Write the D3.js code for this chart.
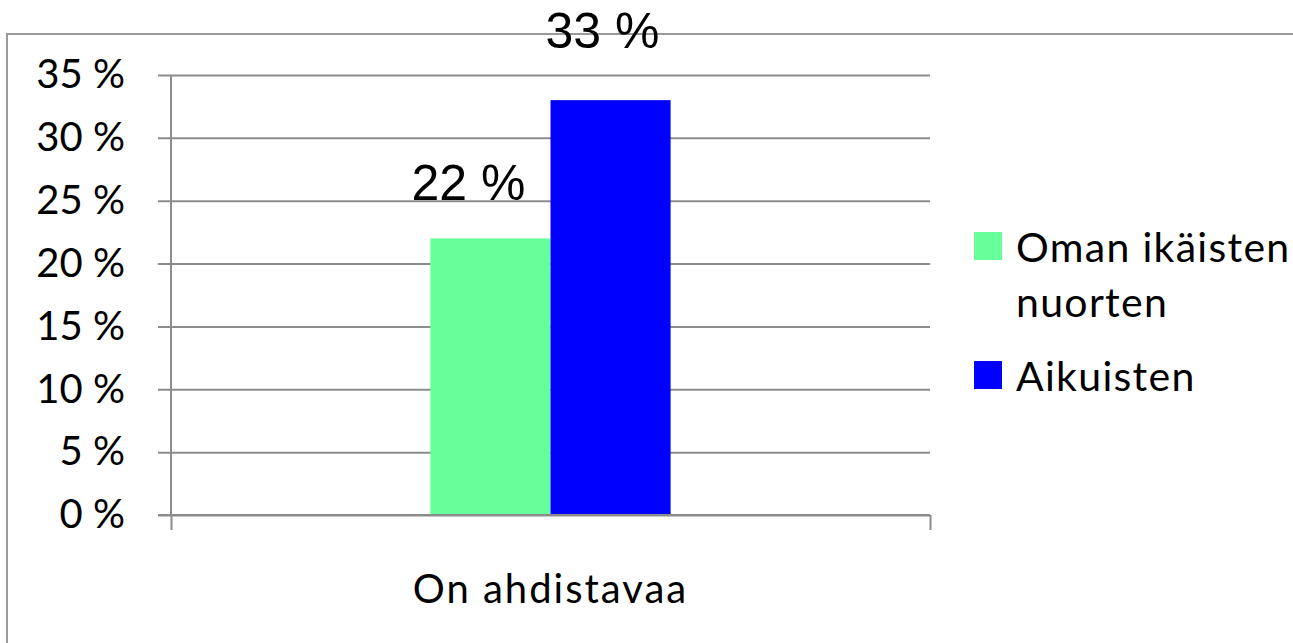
<!DOCTYPE html>
<html>
<head>
<meta charset="utf-8">
<script src="https://cdn.jsdelivr.net/npm/d3@7"></script>
<style>
  body { margin: 0; background: #fff; overflow: hidden; }
</style>
</head>
<body>
<div id="chart"></div>
<script>
// data
var categories = ["On ahdistavaa"];
var seriesNames = ["Oman ikäisten nuorten", "Aikuisten"];
var seriesValues = [[22], [33]];
var seriesColors = ["#66ff99", "#0000ff"];
var yTicks = [0, 5, 10, 15, 20, 25, 30, 35];

var width = 1293, height = 643;
var plot = {left: 171, right: 930, top: 75, bottom: 515};

var svg = d3.select("#chart").append("svg")
    .attr("width", width)
    .attr("height", height)
    .style("display", "block");

// outer chart frame (only left and top edges are inside the picture)
svg.append("path")
    .attr("d", "M7," + height + "V34H" + width)
    .attr("fill", "none")
    .attr("stroke", "#9a9a9a")
    .attr("stroke-width", 2);

var y = d3.scaleLinear().domain([0, 35]).range([plot.bottom, plot.top]);
var x0 = d3.scaleBand().domain(categories)
    .range([plot.left, plot.right])
    .paddingInner(0).paddingOuter(1.08);
var x1 = d3.scaleBand().domain(seriesNames).range([0, x0.bandwidth()]);

// gridlines + left ticks
var yAxis = d3.axisLeft(y)
    .tickValues(yTicks)
    .tickSize(-(plot.right - plot.left) - 13)
    .tickFormat(function(d) { return d + " %"; });

var gy = svg.append("g")
    .attr("transform", "translate(" + plot.left + ",0)")
    .call(yAxis);
gy.select(".domain").remove();
gy.selectAll(".tick line")
    .attr("x1", -13)
    .attr("x2", plot.right - plot.left)
    .attr("stroke", "#8c8c8c")
    .attr("stroke-width", 2);
gy.selectAll(".tick text")
    .attr("x", -46)
    .attr("font-family", "Lato")
    .attr("font-size", 40)
    .attr("fill", "#000");

// vertical axis line
svg.append("line")
    .attr("x1", plot.left).attr("x2", plot.left)
    .attr("y1", plot.top).attr("y2", plot.bottom)
    .attr("stroke", "#8c8c8c").attr("stroke-width", 2);

// bars
var groups = svg.selectAll(".cat")
    .data(categories)
  .enter().append("g")
    .attr("class", "cat")
    .attr("transform", function(d) { return "translate(" + x0(d) + ",0)"; });

groups.selectAll("rect")
    .data(function(d, ci) {
      return seriesNames.map(function(s, si) {
        return {name: s, value: seriesValues[si][ci], color: seriesColors[si]};
      });
    })
  .enter().append("rect")
    .attr("x", function(d) { return x1(d.name); })
    .attr("width", x1.bandwidth())
    .attr("y", function(d) { return y(d.value); })
    .attr("height", function(d) { return plot.bottom - y(d.value); })
    .attr("fill", function(d) { return d.color; });

// data labels
groups.selectAll(".lbl")
    .data(function(d, ci) {
      return seriesNames.map(function(s, si) {
        return {name: s, value: seriesValues[si][ci]};
      });
    })
  .enter().append("text")
    .attr("class", "lbl")
    .attr("x", function(d, i) { return x1(d.name) + x1.bandwidth() / 2 - (i == 0 ? 22 : 8); })
    .attr("y", function(d, i) { return y(d.value) - (i == 0 ? 38 : 52); })
    .attr("text-anchor", "middle")
    .attr("font-family", "Liberation Sans")
    .attr("font-size", 50)
    .attr("fill", "#000")
    .text(function(d) { return d.value + " %"; });

// bottom axis
var xAxis = d3.axisBottom(d3.scalePoint().domain([0, 1]).range([plot.left, plot.right]))
    .tickSize(15).tickFormat("");
var gx = svg.append("g")
    .attr("transform", "translate(0," + plot.bottom + ")")
    .call(xAxis);
gx.select(".domain").remove();
gx.selectAll(".tick line").attr("stroke", "#8c8c8c").attr("stroke-width", 2);
svg.append("line")
    .attr("x1", plot.left - 13).attr("x2", plot.right)
    .attr("y1", plot.bottom).attr("y2", plot.bottom)
    .attr("stroke", "#8c8c8c").attr("stroke-width", 2);

svg.selectAll(".catlbl")
    .data(categories)
  .enter().append("text")
    .attr("class", "catlbl")
    .attr("x", function(d) { return x0(d) + x0.bandwidth() / 2; })
    .attr("y", 603)
    .attr("text-anchor", "middle")
    .attr("font-family", "Lato")
    .attr("font-size", 40)
    .attr("letter-spacing", 2)
    .attr("fill", "#000")
    .text(function(d) { return d; });

// legend
var legendLines = [["Oman ikäisten", "nuorten"], ["Aikuisten"]];
var legendY = [232, 361];
var legend = svg.selectAll(".legend")
    .data(seriesNames)
  .enter().append("g")
    .attr("class", "legend")
    .attr("transform", function(d, i) { return "translate(974," + legendY[i] + ")"; });

legend.append("rect")
    .attr("width", 28).attr("height", 28)
    .attr("fill", function(d, i) { return seriesColors[i]; });

legend.append("text")
    .attr("x", 42)
    .attr("y", 30)
    .attr("font-family", "Lato")
    .attr("font-size", 41)
    .attr("letter-spacing", 1.3)
    .attr("fill", "#000")
    .selectAll("tspan")
    .data(function(d, i) { return legendLines[i]; })
  .enter().append("tspan")
    .attr("x", 42)
    .attr("dy", function(d, i) { return i == 0 ? 0 : 55; })
    .text(function(d) { return d; });
</script>
</body>
</html>
